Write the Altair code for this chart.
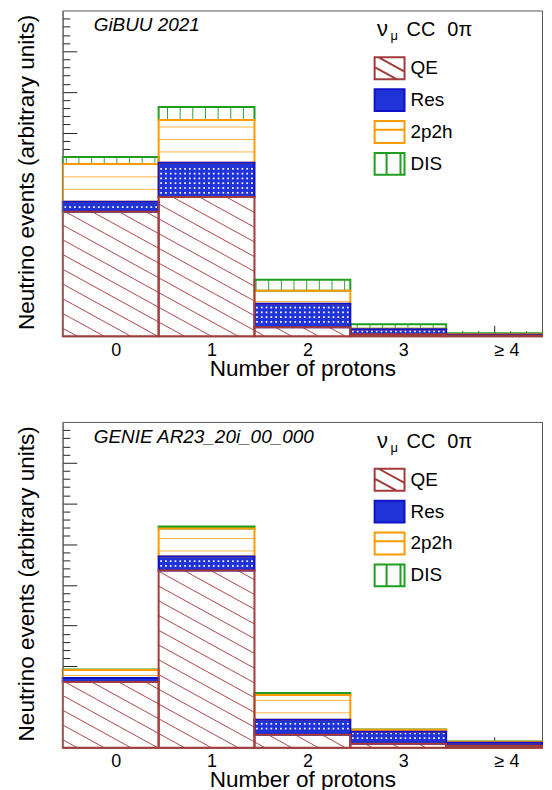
import json
import numpy as np
import pandas as pd
import altair as alt

# ---------------- data (arbitrary units) ----------------
CATEGORIES = ["QE", "Res", "2p2h", "DIS"]
BINS = [0, 1, 2, 3, 4]
BIN_LABELS = ["0", "1", "2", "3", "≥ 4"]

GIBUU_QE = [15.3, 17.1, 1.1, 0.25, 0.1]
GIBUU_RES = [1.2, 4.2, 2.9, 0.6, 0.09]
GIBUU_2P2H = [4.65, 5.25, 1.6, 0.06, 0.06]
GIBUU_DIS = [0.85, 1.6, 1.35, 0.55, 0.12]

GENIE_QE = [8.07, 21.77, 1.59, 0.49, 0.24]
GENIE_RES = [0.49, 1.71, 1.83, 1.47, 0.37]
GENIE_2P2H = [0.98, 3.43, 3.06, 0.24, 0.12]
GENIE_DIS = [0.06, 0.24, 0.24, 0.04, 0.02]

MODEL_LABELS = ["GiBUU 2021", "GENIE AR23_20i_00_000"]
X_TITLE = "Number of protons"
Y_TITLE = "Neutrino events (arbitrary units)"
Y_MAJOR = [5, 10, 15, 20, 25, 30, 35]
Y_MINOR = [v for v in range(1, 40) if v % 5 != 0]
X_MAJOR = BINS
X_MINOR = [b + k / 6 for b in BINS for k in (-2, -1, 1, 2)]

# ---------------- styling ----------------
W, H = 481, 327
XDOM = [-0.5, 4.5]
YDOM = [0, 40]
XS = W / (XDOM[1] - XDOM[0])
YS = H / (YDOM[1] - YDOM[0])
FONT = "Liberation Sans"
STROKES = ["#a33b3b", "#1212c8", "#ff9a00", "#1f9f1f"]
FILLS = ["white", "#1f33d8", "white", "white"]
HATCH_QE = "#b04848"
HATCH_2P2H = "#ffb340"
HATCH_DIS = "#2fa82f"

BOX = "M-1,-0.733H1V0.733H-1Z"
LEGEND_PATHS = [
    BOX + " M-0.73,-0.733L1,0.22 M-1,-0.07L0.47,0.733",
    BOX,
    BOX + " M-1,-0.15H1",
    BOX + " M-0.2,-0.733V0.733 M0.73,-0.733V0.733",
]


def segments(series):
    rows = []
    for b in BINS:
        lo = 0.0
        for cat, vals in zip(CATEGORIES, series):
            hi = lo + vals[b]
            rows.append(dict(cat=cat, bin=b, x0=b - 0.5, x1=b + 0.5, lo=lo, hi=hi))
            lo = hi
    return pd.DataFrame(rows)


def to_px_x(d):
    return (d - XDOM[0]) * XS


def dx(px):
    return px / XS + XDOM[0]


def dy(px):
    return px / YS


def hatch_tables(seg):
    diag, dots, horiz, vert = [], [], [], []
    for r in seg.itertuples():
        x0, x1 = to_px_x(r.x0), to_px_x(r.x1)
        lo, hi = r.lo * YS, r.hi * YS
        if hi - lo < 1.0:
            continue
        if r.cat == "QE":
            s, sp, c0 = 0.55, 14.8, 8.0
            kmin = int(np.floor((lo + s * x0 - c0) / sp)) - 1
            kmax = int(np.ceil((hi + s * x1 - c0) / sp)) + 1
            for k in range(kmin, kmax + 1):
                c = c0 + sp * k
                xa = max(x0, (c - hi) / s)
                xb = min(x1, (c - lo) / s)
                if xb - xa > 0.5:
                    diag.append(dict(xa=dx(xa), ya=dy(c - s * xa),
                                     xb=dx(xb), yb=dy(c - s * xb)))
        elif r.cat == "Res":
            sp = 4.8
            xs = np.arange(x0 + 2.5, x1 - 1.5, sp)
            ys = np.arange(np.ceil((lo + 2.0) / sp) * sp, hi - 1.5, sp)
            for X in xs:
                for Y in ys:
                    dots.append(dict(x=dx(X), y=dy(Y)))
        elif r.cat == "2p2h":
            sp, c0 = 12.5, 10.0
            for k in range(0, 40):
                h = c0 + sp * k
                if lo + 1.5 < h < hi - 1.5:
                    horiz.append(dict(xa=r.x0, xb=r.x1, y=dy(h)))
        elif r.cat == "DIS":
            sp, c0 = 12.7, 3.5
            for k in range(0, 40):
                X = c0 + sp * k
                if x0 + 1.5 < X < x1 - 1.5:
                    vert.append(dict(x=dx(X), ya=r.lo, yb=r.hi))
    return (pd.DataFrame(diag, columns=["xa", "ya", "xb", "yb"]),
            pd.DataFrame(dots, columns=["x", "y"]),
            pd.DataFrame(horiz, columns=["xa", "xb", "y"]),
            pd.DataFrame(vert, columns=["x", "ya", "yb"]))


def text_layer(s, x, y, size, italic=False):
    kw = dict(align="left", baseline="alphabetic", font=FONT, fontSize=size, color="black")
    if italic:
        kw["fontStyle"] = "italic"
    return alt.Chart(pd.DataFrame({"t": [s]})).mark_text(**kw).encode(
        text="t:N", x=alt.value(x), y=alt.value(y))


def panel(series, model):
    seg = segments(series)
    diag, dots, horiz, vert = hatch_tables(seg)
    xsc = alt.Scale(domain=XDOM, nice=False, zero=False)
    ysc = alt.Scale(domain=YDOM, nice=False, zero=False)
    fill_sc = alt.Scale(domain=CATEGORIES, range=FILLS)
    stroke_sc = alt.Scale(domain=CATEGORIES, range=STROKES)
    shape_sc = alt.Scale(domain=CATEGORIES, range=LEGEND_PATHS)

    label_expr = json.dumps(BIN_LABELS, ensure_ascii=False) + "[datum.value]"
    x_major = alt.Axis(orient="bottom", values=X_MAJOR, labelExpr=label_expr, labelAlign="left",
                       labelFont=FONT, labelFontSize=18, labelColor="black", labelPadding=5,
                       labelFlush=False, labelOverlap=False, tickSize=11, offset=-11,
                       tickColor="#222", domain=False, grid=False, zindex=0,
                       title=X_TITLE, titleFont=FONT, titleFontSize=22.6, titleFontWeight="normal",
                       titleColor="black", titleX=W / 2, titleY=50, titleAlign="center",
                       titleBaseline="alphabetic")
    x_minor = alt.Axis(orient="bottom", values=X_MINOR, labels=False, tickSize=5.5, offset=-5.5,
                       tickColor="#222", domain=False, grid=False, zindex=0, title=None)
    y_major = alt.Axis(orient="left", values=Y_MAJOR, labels=False, tickSize=14, offset=-14,
                       tickColor="#222", domain=False, grid=False, zindex=0,
                       title=Y_TITLE, titleFont=FONT, titleFontSize=22.6, titleFontWeight="normal",
                       titleColor="black", titleAngle=270, titleX=-43, titleY=162,
                       titleAlign="center", titleBaseline="alphabetic")
    y_minor = alt.Axis(orient="left", values=Y_MINOR, labels=False, tickSize=7, offset=-7,
                       tickColor="#222", domain=False, grid=False, zindex=0, title=None)

    legend = alt.Legend(title=None, orient="none", legendX=312, legendY=42, symbolSize=900,
                        symbolStrokeWidth=2, symbolOpacity=1, labelFont=FONT, labelFontSize=19,
                        labelColor="black", labelOffset=5, rowPadding=1, padding=0)

    fills = alt.Chart(seg).mark_rect(strokeWidth=0).encode(
        x=alt.X("x0:Q", scale=xsc, axis=x_major),
        x2="x1:Q",
        y=alt.Y("lo:Q", scale=ysc, axis=y_major),
        y2="hi:Q",
        fill=alt.Fill("cat:N", scale=fill_sc, legend=legend),
    )
    diag_l = alt.Chart(diag).mark_rule(color=HATCH_QE, strokeWidth=1).encode(
        x=alt.X("xa:Q", scale=xsc, axis=x_minor),
        y=alt.Y("ya:Q", scale=ysc, axis=y_minor),
        x2="xb:Q", y2="yb:Q")
    dots_l = alt.Chart(dots).mark_square(size=3, color="white", opacity=1, filled=True).encode(
        x=alt.X("x:Q", scale=xsc, axis=None),
        y=alt.Y("y:Q", scale=ysc, axis=None))
    horiz_l = alt.Chart(horiz).mark_rule(color=HATCH_2P2H, strokeWidth=1).encode(
        x=alt.X("xa:Q", scale=xsc, axis=None), x2="xb:Q",
        y=alt.Y("y:Q", scale=ysc, axis=None))
    vert_l = alt.Chart(vert).mark_rule(color=HATCH_DIS, strokeWidth=1).encode(
        x=alt.X("x:Q", scale=xsc, axis=None),
        y=alt.Y("ya:Q", scale=ysc, axis=None), y2="yb:Q")

    order = {c: i for i, c in enumerate(CATEGORIES[::-1])}
    seg_draw = seg.assign(o=seg["cat"].map(order)).sort_values(["o", "bin"])
    strokes = alt.Chart(seg_draw).mark_rect(fillOpacity=0, strokeWidth=2).encode(
        x=alt.X("x0:Q", scale=xsc, axis=None), x2="x1:Q",
        y=alt.Y("lo:Q", scale=ysc, axis=None), y2="hi:Q",
        stroke=alt.Stroke("cat:N", scale=stroke_sc, legend=legend),
    )
    frame = alt.Chart(pd.DataFrame({"x": [XDOM[0]]})).mark_rule(color="#777", strokeWidth=1).encode(
        x=alt.X("x:Q", scale=xsc, axis=None))

    legend_l = alt.Chart(pd.DataFrame({"cat": CATEGORIES})).mark_point(
        size=0, filled=True, strokeWidth=2).encode(
        shape=alt.Shape("cat:N", scale=shape_sc, legend=legend),
        fill=alt.Fill("cat:N", scale=fill_sc, legend=legend),
        stroke=alt.Stroke("cat:N", scale=stroke_sc, legend=legend),
    )

    texts = [
        text_layer(model, 31, 21, 19, italic=True),
        text_layer("ν", 315.5, 26, 22),
        text_layer("μ", 329, 30, 13),
        text_layer("CC", 345, 26, 20),
        text_layer("0π", 386, 26, 20),
    ]
    return alt.layer(fills, diag_l, dots_l, horiz_l, vert_l, strokes, frame, legend_l,
                     *texts).resolve_axis(x="independent", y="independent").properties(
        width=W, height=H)


top = panel([GIBUU_QE, GIBUU_RES, GIBUU_2P2H, GIBUU_DIS], MODEL_LABELS[0])
bottom = panel([GENIE_QE, GENIE_RES, GENIE_2P2H, GENIE_DIS], MODEL_LABELS[1])

chart = alt.vconcat(top, bottom, spacing=40).resolve_scale(
    fill="independent", stroke="independent", shape="independent"
).resolve_legend(
    fill="independent", stroke="independent", shape="independent"
).properties(
    padding={"left": 7, "top": 0, "right": 0, "bottom": 0}
).configure_view(stroke="#555", strokeWidth=1)

chart.save("out.html", embed_options={"renderer": "svg", "actions": False})
